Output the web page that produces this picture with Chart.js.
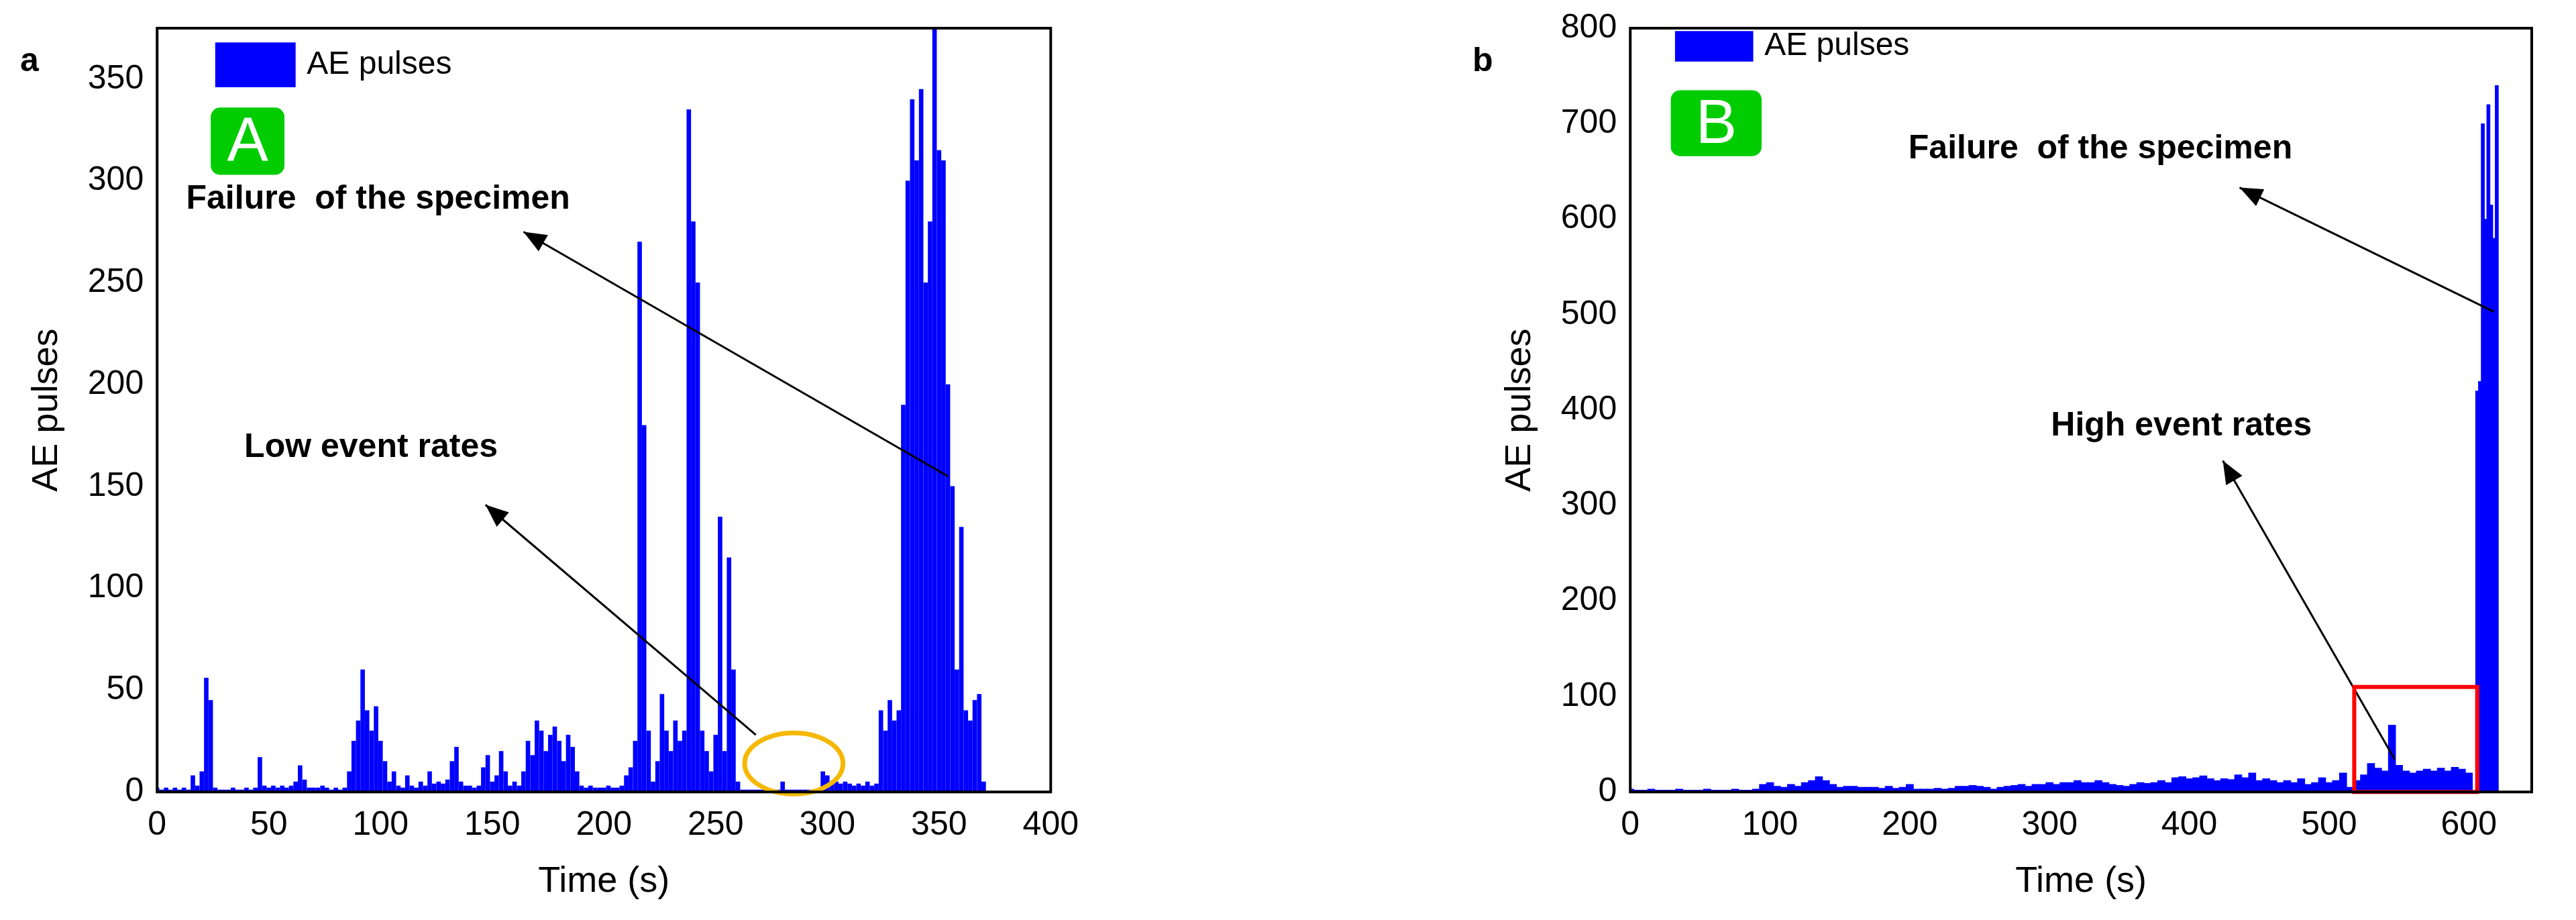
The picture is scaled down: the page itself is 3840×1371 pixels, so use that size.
<!DOCTYPE html>
<html>
<head>
<meta charset="utf-8">
<script src="https://cdn.jsdelivr.net/npm/chart.js@4"></script>
<style>
body{margin:0;background:#fff;width:3840px;height:1371px;position:relative;overflow:hidden;font-family:"Liberation Sans",Arial,sans-serif}
.box{position:absolute;top:0;height:1371px}
.lab{position:absolute;font-weight:bold;font-size:50px}
</style>
</head>
<body>
<div class="lab" style="left:30px;top:60px">a</div>
<div class="lab" style="left:2195px;top:60px">b</div>
<div class="box" style="left:24px;width:1596px"><canvas id="chartA"></canvas></div>
<div class="box" style="left:2220px;width:1578px"><canvas id="chartB"></canvas></div>
<script>
// A: AE pulses every 2 s from 0 to 370 s
const stepA = 2;
const pulsesA = [
  2,1,2,1,2, 1,2,1,8,3, 10,56,45,2,1, 1,1,2,1,1, 2,1,2,17,3,
  2,3,2,3,2, 3,5,13,6,2, 2,2,3,2,1, 2,1,2,10,25, 35,60,40,30,42,
  25,15,5,10,3, 2,8,3,2,5, 3,10,4,5,4, 6,15,22,5,3, 3,2,3,12,18,
  5,8,20,10,3, 5,3,10,25,18, 35,30,20,28,32, 25,15,28,22,10, 3,2,3,2,2,
  2,3,2,2,3, 8,12,25,270,180, 30,5,15,48,30, 20,35,25,30,335, 280,250,30,20,10,
  28,135,20,115,60, 5,1,1,1,1, 1,1,1,1,1, 5,1,1,1,1, 1,1,1,1,10,
  8,5,5,4,5, 4,3,4,3,5, 3,4,40,30,45, 35,40,190,300,340, 310,345,250,280,375,
  315,310,200,150,60, 130,40,35,45,48, 5
];
// B: AE pulses every 5 s from 0 to 600 s
const stepB = 5;
const pulsesB = [
  3,2,2,3,2,2,2,3,2,2,2,3,2,2,2,3,2,2,3,
  8,10,6,5,8,6,10,12,16,12,8,5,6,6,5,5,5,4,6,4,5,
  8,3,3,3,4,3,4,6,6,7,6,5,3,5,6,7,8,6,8,8,
  10,8,10,10,12,10,10,12,10,8,7,6,8,10,9,10,12,10,15,16,
  14,15,17,14,12,14,13,18,15,20,12,14,12,10,12,10,14,8,10,15,
  10,12,20,5,12,18,30,25,22,70,28,22,20,22,24,22,25,22,26,24,20
];
// B: failure burst
const burstTimesB = [606,608,610,612,614,616,618,620];
const burstPulsesB = [420,430,700,600,720,615,580,740];

const xTicksA = [0,50,100,150,200,250,300,350,400];
const yTicksA = [0,50,100,150,200,250,300,350];
const xTicksB = [0,100,200,300,400,500,600];
const yTicksB = [0,100,200,300,400,500,600,700,800];

const BLUE = '#0000ff';
const tickFont = {family:'"Liberation Sans Narrow","Liberation Sans",Arial', size:50};
const titleFont = {family:'"Liberation Sans",Arial', size:54};
const noteFont = 'bold 50px "Liberation Sans Narrow","Liberation Sans",Arial';

function toPts(vals, step){ return vals.map((v,i)=>({x:i*step,y:v})); }

function arrow(ctx, x1, y1, x2, y2){
  ctx.strokeStyle='#000'; ctx.fillStyle='#000'; ctx.lineWidth=3;
  ctx.beginPath(); ctx.moveTo(x1,y1); ctx.lineTo(x2,y2); ctx.stroke();
  const a=Math.atan2(y2-y1,x2-x1), L=34, W=14;
  ctx.beginPath(); ctx.moveTo(x2,y2);
  ctx.lineTo(x2-L*Math.cos(a)+W*Math.sin(a), y2-L*Math.sin(a)-W*Math.cos(a));
  ctx.lineTo(x2-L*Math.cos(a)-W*Math.sin(a), y2-L*Math.sin(a)+W*Math.cos(a));
  ctx.closePath(); ctx.fill();
}
function greenBox(ctx, x1, y1, x2, y2, letter){
  ctx.fillStyle='#00cc00';
  ctx.beginPath(); ctx.roundRect(x1,y1,x2-x1,y2-y1,14); ctx.fill();
  ctx.fillStyle='#fff'; ctx.font='92px "Liberation Sans",Arial';
  ctx.textAlign='center'; ctx.textBaseline='middle';
  ctx.fillText(letter,(x1+x2)/2,(y1+y2)/2+4);
}
function legend(ctx, x1, y1, x2, y2, tx){
  ctx.fillStyle=BLUE; ctx.fillRect(x1,y1,x2-x1,y2-y1);
  ctx.fillStyle='#000'; ctx.font='48px "Liberation Sans Narrow","Liberation Sans",Arial';
  ctx.textAlign='left'; ctx.textBaseline='middle';
  ctx.fillText('AE pulses',tx,(y1+y2)/2);
}
function note(ctx, txt, x, y){
  ctx.fillStyle='#000'; ctx.font=noteFont; ctx.textAlign='left'; ctx.textBaseline='middle';
  ctx.fillText(txt,x,y);
}

function frameAndNotes(draw){
  return {
    id:'notes',
    afterDatasetsDraw(chart){
      const ctx=chart.ctx, a=chart.chartArea;
      const X=v=>chart.scales.x.getPixelForValue(v), Y=v=>chart.scales.y.getPixelForValue(v);
      ctx.save();
      draw(ctx,X,Y);
      ctx.strokeStyle='#000'; ctx.lineWidth=4;
      ctx.strokeRect(a.left,a.top,a.right-a.left,a.bottom-a.top);
      ctx.restore();
    }
  };
}

function makeChart(id, datasets, xmax, ymax, xTicks, yTicks, plugin, pad){
  return new Chart(document.getElementById(id), {
    type:'bar',
    data:{datasets},
    options:{
      responsive:true, maintainAspectRatio:false, animation:false,
      layout:{padding:pad},
      plugins:{legend:{display:false}, tooltip:{enabled:false}},
      scales:{
        x:{type:'linear', min:0, max:xmax, offset:false,
          afterBuildTicks:s=>{s.ticks=xTicks.map(v=>({value:v}));},
          ticks:{font:tickFont, color:'#000', padding:12},
          grid:{display:false}, border:{display:false},
          title:{display:true, text:'Time (s)', font:titleFont, color:'#000', padding:{top:10}}},
        y:{min:0, max:ymax,
          afterBuildTicks:s=>{s.ticks=yTicks.map(v=>({value:v}));},
          ticks:{font:tickFont, color:'#000', padding:12},
          grid:{display:false}, border:{display:false},
          title:{display:true, text:'AE pulses', font:titleFont, color:'#000', padding:{bottom:16}}}
      }
    },
    plugins:[plugin]
  });
}

makeChart('chartA',
  [{data:toPts(pulsesA,stepA), backgroundColor:BLUE, barThickness:6, grouped:false}],
  400, 375, xTicksA, yTicksA,
  frameAndNotes((ctx,X,Y)=>{
    legend(ctx,X(26),Y(368),X(62),Y(346),X(67));
    greenBox(ctx,X(24),Y(336),X(57),Y(303),'A');
    note(ctx,'Failure  of the specimen',X(13),Y(291));
    arrow(ctx,X(354),Y(155),X(164),Y(275));
    note(ctx,'Low event rates',X(39),Y(169));
    arrow(ctx,X(268),Y(28),X(147),Y(141));
    ctx.strokeStyle='#f5b800'; ctx.lineWidth=7;
    ctx.beginPath();
    ctx.ellipse(X(285),Y(14),X(22)-X(0),Y(0)-Y(15),0,0,Math.PI*2);
    ctx.stroke();
  }),
  {top:34,right:0,left:10,bottom:20});

makeChart('chartB',
  [{data:toPts(pulsesB,stepB), backgroundColor:BLUE, barThickness:11, grouped:false},
   {data:burstTimesB.map((t,i)=>({x:t,y:burstPulsesB[i]})), backgroundColor:BLUE, barThickness:5, grouped:false}],
  645, 800, xTicksB, yTicksB,
  frameAndNotes((ctx,X,Y)=>{
    legend(ctx,X(32),Y(797),X(88),Y(765),X(96));
    greenBox(ctx,X(29),Y(735),X(94),Y(666),'B');
    note(ctx,'Failure  of the specimen',X(199),Y(673));
    arrow(ctx,X(618),Y(503),X(436),Y(633));
    note(ctx,'High event rates',X(301),Y(383));
    arrow(ctx,X(547),Y(34),X(424),Y(347));
    ctx.strokeStyle='#ff0000'; ctx.lineWidth=6;
    ctx.strokeRect(X(518),Y(110),X(606)-X(518),Y(0)-Y(110));
  }),
  {top:34,right:24,left:10,bottom:20});
</script>
</body>
</html>
